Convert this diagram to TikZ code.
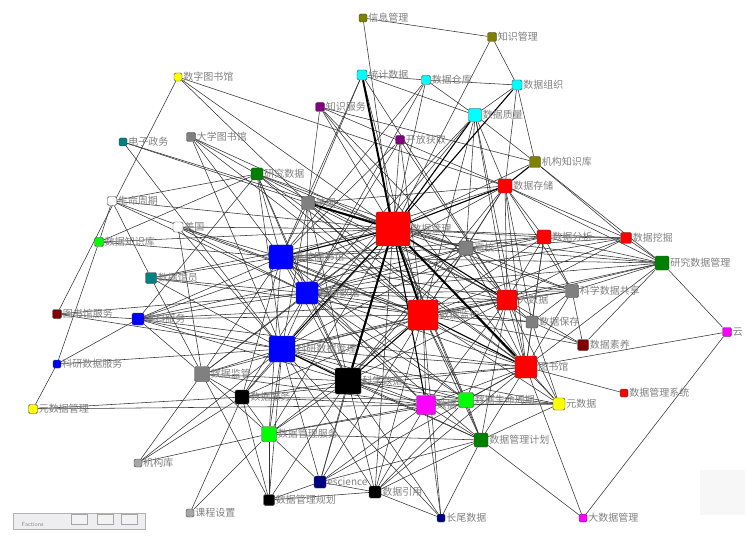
\documentclass[tikz,border=0pt]{standalone}
\usepackage{fontspec}
\newfontfamily\cjk{Noto Sans CJK SC}
\usepackage{xcolor}
\usepackage{tikz}
\usetikzlibrary{backgrounds}
\definecolor{oliva}{RGB}{128,128,0}
\definecolor{ciano}{RGB}{0,255,255}
\definecolor{roxo}{RGB}{128,0,128}
\definecolor{petroleo}{RGB}{0,128,128}
\definecolor{cinza}{RGB}{128,128,128}
\definecolor{verdeEsc}{RGB}{0,128,0}
\definecolor{verdeLim}{RGB}{0,255,0}
\definecolor{amarelo}{RGB}{255,255,0}
\definecolor{azul}{RGB}{0,0,255}
\definecolor{marinho}{RGB}{0,0,128}
\definecolor{vinho}{RGB}{128,0,0}
\definecolor{rosa}{RGB}{255,0,255}
\tikzset{
    vertice/.style={
        rectangle,
        draw=black!75,
        rounded corners=1.5pt,
        inner sep=0pt,
        line width=0.4pt
    },
    rotulo/.style={
        font=\cjk\fontsize{10}{12}\selectfont,
        text=black!50,
        inner sep=1pt
    },
    aresta/.style={draw=black!80, line width=0.55pt},
    arestaMedia/.style={draw=black, line width=1.1pt},
    arestaForte/.style={draw=black, line width=2pt}
}

\begin{document}
\begin{tikzpicture}[x=1pt, y=-1pt]
    \useasboundingbox (0,0) rectangle (747,556);

    % vertices: topo
    \node[vertice, minimum size=8pt, fill=oliva, label={[rotulo]right:信息管理}] (infomgmt) at (363,18) {};
    \node[vertice, minimum size=9pt, fill=oliva, label={[rotulo]right:知识管理}] (knowmgmt) at (492,37) {};
    \node[vertice, minimum size=8pt, fill=amarelo, label={[rotulo]right:数字图书馆}] (digilib) at (178,77) {};
    \node[vertice, minimum size=10pt, fill=ciano, label={[rotulo]right:统计数据}] (statdata) at (362,75) {};
    \node[vertice, minimum size=9pt, fill=ciano, label={[rotulo]right:数据仓库}] (warehouse) at (426,80) {};
    \node[vertice, minimum size=10pt, fill=ciano, label={[rotulo]right:数据组织}] (dataorg) at (517,85) {};
    \node[vertice, minimum size=9pt, fill=roxo, label={[rotulo]right:知识服务}] (knowserv) at (320,107) {};
    \node[vertice, minimum size=13pt, fill=ciano, label={[rotulo]right:数据质量}] (quality) at (475,115) {};
    \node[vertice, minimum size=9pt, fill=roxo, label={[rotulo]right:开放获取}] (openacc) at (400,140) {};
    \node[vertice, minimum size=8pt, fill=petroleo, label={[rotulo]right:电子政务}] (egov) at (123,142) {};
    \node[vertice, minimum size=9pt, fill=cinza, label={[rotulo]right:大学图书馆}] (unilib) at (191,137) {};
    \node[vertice, minimum size=11pt, fill=oliva, label={[rotulo]right:机构知识库}] (instrepo) at (535,162) {};
    \node[vertice, minimum size=12pt, fill=verdeEsc, label={[rotulo]right:研究数据}] (resdata) at (257,174) {};
    \node[vertice, minimum size=14pt, fill=red, label={[rotulo]right:数据存储}] (storage) at (505,186) {};

    % vertices: meio
    \node[vertice, minimum size=9pt, fill=white, label={[rotulo]right:生命周期}] (lifecyc) at (112,201) {};
    \node[vertice, minimum size=13pt, fill=cinza, label={[rotulo]right:美国}] (usa1) at (308,203) {};
    \node[vertice, minimum size=10pt, fill=white, label={[rotulo]right:美国}] (usa2) at (178,227) {};
    \node[vertice, minimum size=34pt, fill=red, label={[rotulo]right:数据管理}] (datamgmt) at (393,229) {};
    \node[vertice, minimum size=9pt, fill=verdeLim, label={[rotulo]right:数据知识库}] (datarepo) at (99,242) {};
    \node[vertice, minimum size=14pt, fill=red, label={[rotulo]right:数据分析}] (analysis) at (544,237) {};
    \node[vertice, minimum size=11pt, fill=red, label={[rotulo]right:数据挖掘}] (mining) at (626,238) {};
    \node[vertice, minimum size=14pt, fill=cinza, label={[rotulo]right:高校}] (college) at (466,248) {};
    \node[vertice, minimum size=24pt, fill=azul, label={[rotulo]right:高校图书馆}] (colllib) at (281,257) {};
    \node[vertice, minimum size=14pt, fill=verdeEsc, label={[rotulo]right:研究数据管理}] (rdm) at (662,263) {};
    \node[vertice, minimum size=11pt, fill=petroleo, label={[rotulo]right:数据馆员}] (librarian) at (151,278) {};
    \node[vertice, minimum size=22pt, fill=azul, label={[rotulo]right:科研数据}] (sciresdata) at (307,293) {};
    \node[vertice, minimum size=20pt, fill=red, label={[rotulo]right:大数据}] (bigdata) at (507,300) {};
    \node[vertice, minimum size=13pt, fill=cinza, label={[rotulo]right:科学数据共享}] (sharing) at (572,291) {};
    \node[vertice, minimum size=9pt, fill=vinho, label={[rotulo]right:图书馆服务}] (libserv) at (57,314) {};
    \node[vertice, minimum size=12pt, fill=azul, label={[rotulo]right:学科服务}] (subjserv) at (138,319) {};
    \node[vertice, minimum size=30pt, fill=red, label={[rotulo]right:数据监护}] (curation) at (423,315) {};
    \node[vertice, minimum size=12pt, fill=cinza, label={[rotulo]right:数据保存}] (preserv) at (532,322) {};
    \node[vertice, minimum size=9pt, fill=rosa, label={[rotulo]right:云}] (cloud) at (727,332) {};
    \node[vertice, minimum size=11pt, fill=vinho, label={[rotulo]right:数据素养}] (literacy) at (583,345) {};
    \node[vertice, minimum size=26pt, fill=azul, label={[rotulo]right:科研数据管理}] (srdm) at (282,349) {};
    \node[vertice, minimum size=8pt, fill=azul, label={[rotulo]right:科研数据服务}] (srdserv) at (57,364) {};
    \node[vertice, minimum size=15pt, fill=cinza, label={[rotulo]right:数据监管}] (supervise) at (202,374) {};
    \node[vertice, minimum size=26pt, fill=black, label={[rotulo]right:科学数据}] (scidata) at (348,381) {};
    \node[vertice, minimum size=22pt, fill=red, label={[rotulo]right:图书馆}] (library) at (526,367) {};

    % vertices: base
    \node[vertice, minimum size=14pt, fill=black, label={[rotulo]right:数据服务}] (dataserv) at (242,397) {};
    \node[vertice, minimum size=8pt, fill=red, label={[rotulo]right:数据管理系统}] (dbms) at (624,393) {};
    \node[vertice, minimum size=9pt, fill=amarelo, label={[rotulo]right:元数据管理}] (metamgmt) at (33,409) {};
    \node[vertice, minimum size=19pt, fill=rosa, label={[rotulo]right:数据}] (datapart) at (426,405) {};
    \node[vertice, minimum size=15pt, fill=verdeLim, label={[rotulo]right:数据生命周期}] (dlc) at (466,400) {};
    \node[vertice, minimum size=12pt, fill=amarelo, label={[rotulo]right:元数据}] (metadata) at (559,404) {};
    \node[vertice, minimum size=15pt, fill=verdeLim, label={[rotulo]right:数据管理服务}] (dmserv) at (269,434) {};
    \node[vertice, minimum size=14pt, fill=verdeEsc, label={[rotulo]right:数据管理计划}] (dmp) at (481,440) {};
    \node[vertice, minimum size=8pt, fill=cinza!70, label={[rotulo]right:机构库}] (irepo) at (138,463) {};
    \node[vertice, minimum size=12pt, fill=marinho, label={[rotulo]right:escience}] (escience) at (320,482) {};
    \node[vertice, minimum size=12pt, fill=black, label={[rotulo]right:数据引用}] (citation) at (375,492) {};
    \node[vertice, minimum size=11pt, fill=black, label={[rotulo]right:数据管理规划}] (dmplan) at (269,500) {};
    \node[vertice, minimum size=8pt, fill=cinza!70, label={[rotulo]right:课程设置}] (course) at (190,513) {};
    \node[vertice, minimum size=8pt, fill=marinho, label={[rotulo]right:长尾数据}] (longtail) at (441,518) {};
    \node[vertice, minimum size=8pt, fill=rosa, label={[rotulo]right:大数据管理}] (bigdm) at (583,518) {};

    % janela "Factions" no canto
    \node[draw=black!30, fill=blue!8!gray!12, minimum width=132pt, minimum height=16pt, inner sep=0pt] (janela) at (79,521) {};
    \node[font=\sffamily\fontsize{6}{7}\selectfont, text=black!45, anchor=west] (janelaTit) at (18,524) {Factions};
    \node[draw=black!35, fill=gray!10, minimum width=16pt, minimum height=10pt] (btnA) at (79,519) {};
    \node[draw=black!35, fill=gray!10, minimum width=16pt, minimum height=10pt] (btnB) at (105,519) {};
    \node[draw=black!35, fill=gray!10, minimum width=16pt, minimum height=10pt] (btnC) at (129,519) {};
    \fill[gray!6] (700,470) rectangle (745,515);

    \begin{scope}[on background layer]
    \foreach \a/\b in {infomgmt/knowmgmt, infomgmt/datamgmt, knowmgmt/dataorg, knowmgmt/datamgmt,
        statdata/warehouse, statdata/quality, statdata/usa1, statdata/colllib, statdata/curation, statdata/bigdata,
        warehouse/dataorg, warehouse/quality, warehouse/datamgmt, warehouse/colllib, warehouse/sciresdata,
        dataorg/quality, dataorg/instrepo, dataorg/storage,
        quality/instrepo, quality/college, quality/bigdata, quality/curation, quality/library, quality/sciresdata, quality/srdm, quality/storage,
        knowserv/usa1, knowserv/datamgmt, knowserv/bigdata, knowserv/storage, knowserv/instrepo, knowserv/library,
        openacc/datamgmt, openacc/sciresdata, openacc/colllib, openacc/bigdata, openacc/curation,
        digilib/libserv, digilib/storage, digilib/curation, digilib/datamgmt,
        egov/college, egov/srdm, egov/usa1,
        unilib/resdata, unilib/srdm, unilib/colllib, unilib/datamgmt, unilib/curation,
        instrepo/mining, instrepo/rdm, instrepo/datamgmt,
        resdata/lifecyc, resdata/datarepo, resdata/datamgmt, resdata/curation, resdata/bigdata, resdata/college,
        resdata/sciresdata, resdata/colllib, resdata/scidata, resdata/library, resdata/srdm, resdata/subjserv,
        storage/mining, storage/analysis, storage/college, storage/bigdata, storage/curation, storage/sciresdata,
        storage/colllib, storage/rdm, storage/sharing, storage/library, storage/preserv, storage/scidata,
        lifecyc/datarepo, lifecyc/librarian, lifecyc/datamgmt, lifecyc/sciresdata, lifecyc/curation,
        usa1/colllib, usa1/sciresdata, usa1/srdm, usa1/curation, usa1/college, usa1/bigdata, usa1/library, usa1/scidata, usa1/storage,
        usa2/datamgmt, usa2/colllib, usa2/sciresdata, usa2/srdm, usa2/supervise, usa2/curation,
        datamgmt/analysis, datamgmt/mining, datamgmt/college, datamgmt/rdm, datamgmt/sciresdata, datamgmt/sharing,
        datamgmt/preserv, datamgmt/dataserv, datamgmt/dlc, datamgmt/metadata, datamgmt/dmserv, datamgmt/dmp,
        datamgmt/citation, datamgmt/escience, datamgmt/supervise, datamgmt/subjserv, datamgmt/librarian, datamgmt/datarepo,
        datarepo/colllib, datarepo/srdserv,
        analysis/mining, analysis/rdm, analysis/college, analysis/bigdata, analysis/sharing, analysis/preserv,
        analysis/curation, analysis/library, analysis/sciresdata, analysis/colllib,
        mining/rdm, mining/bigdata, mining/college, mining/curation, mining/sciresdata,
        college/colllib, college/bigdata, college/curation, college/sharing, college/rdm, college/sciresdata,
        college/srdm, college/library, college/scidata, college/subjserv,
        colllib/sciresdata, colllib/bigdata, colllib/curation, colllib/rdm, colllib/scidata, colllib/library,
        colllib/supervise, colllib/subjserv, colllib/librarian, colllib/dataserv, colllib/dmserv, colllib/datapart,
        colllib/dlc, colllib/sharing,
        rdm/bigdata, rdm/sharing, rdm/cloud, rdm/literacy, rdm/curation, rdm/sciresdata, rdm/library,
        librarian/sciresdata, librarian/supervise, librarian/curation, librarian/srdm,
        sciresdata/srdm, sciresdata/bigdata, sciresdata/curation, sciresdata/scidata, sciresdata/library,
        sciresdata/sharing, sciresdata/preserv, sciresdata/subjserv, sciresdata/dataserv, sciresdata/datapart,
        sciresdata/dlc, sciresdata/dmp, sciresdata/supervise,
        bigdata/sharing, bigdata/preserv, bigdata/curation, bigdata/library, bigdata/literacy, bigdata/srdm,
        bigdata/scidata, bigdata/datapart, bigdata/dlc, bigdata/metadata, bigdata/dmp, bigdata/subjserv,
        sharing/preserv, sharing/literacy, sharing/library, sharing/curation,
        libserv/subjserv, libserv/srdm, libserv/sciresdata,
        subjserv/srdserv, subjserv/srdm, subjserv/curation, subjserv/supervise, subjserv/scidata, subjserv/library,
        curation/preserv, curation/literacy, curation/srdm, curation/datapart, curation/dlc, curation/metadata,
        curation/dataserv, curation/dmserv, curation/dmp, curation/escience, curation/citation, curation/supervise, curation/longtail,
        preserv/literacy, preserv/library, preserv/metadata,
        cloud/bigdm, cloud/library,
        srdm/srdserv, srdm/supervise, srdm/library, srdm/dataserv, srdm/dmserv, srdm/datapart, srdm/dlc, srdm/dmp,
        srdm/escience, srdm/citation, srdm/longtail, srdm/dmplan, srdm/metadata, srdm/irepo,
        srdserv/metamgmt,
        supervise/irepo, supervise/dataserv, supervise/dmserv, supervise/scidata, supervise/datapart, supervise/dmplan,
        scidata/library, scidata/datapart, scidata/dlc, scidata/metadata, scidata/dataserv, scidata/dmserv,
        scidata/dmp, scidata/escience, scidata/citation, scidata/dmplan, scidata/longtail,
        library/dbms, library/metadata, library/datapart, library/dlc, library/dmp, library/bigdm,
        library/dataserv, library/escience, library/citation,
        dataserv/metamgmt, dataserv/irepo, dataserv/dmserv, dataserv/datapart, dataserv/dlc, dataserv/dmplan, dataserv/course,
        metamgmt/metadata,
        datapart/dlc, datapart/dmp, datapart/longtail, datapart/dmserv, datapart/escience, datapart/citation, datapart/metadata,
        dlc/metadata, dlc/dmp, dlc/dmserv, dlc/citation,
        metadata/dmp,
        dmserv/irepo, dmserv/course, dmserv/dmplan, dmserv/escience, dmserv/dmp,
        dmp/longtail, dmp/bigdm, dmp/citation, dmp/escience,
        escience/citation, escience/dmplan,
        citation/longtail, citation/dmplan}
        \draw[aresta] (\a) -- (\b);
    \foreach \a/\b in {dataorg/datamgmt, instrepo/storage, datamgmt/colllib, datamgmt/bigdata, datamgmt/srdm,
        datamgmt/datapart, datamgmt/storage, curation/scidata, curation/library, srdm/scidata, quality/datamgmt}
        \draw[arestaMedia] (\a) -- (\b);
    \foreach \a/\b in {datamgmt/scidata, datamgmt/curation, datamgmt/library, usa1/datamgmt, statdata/datamgmt}
        \draw[arestaForte] (\a) -- (\b);
    \end{scope}
\end{tikzpicture}
\end{document}
